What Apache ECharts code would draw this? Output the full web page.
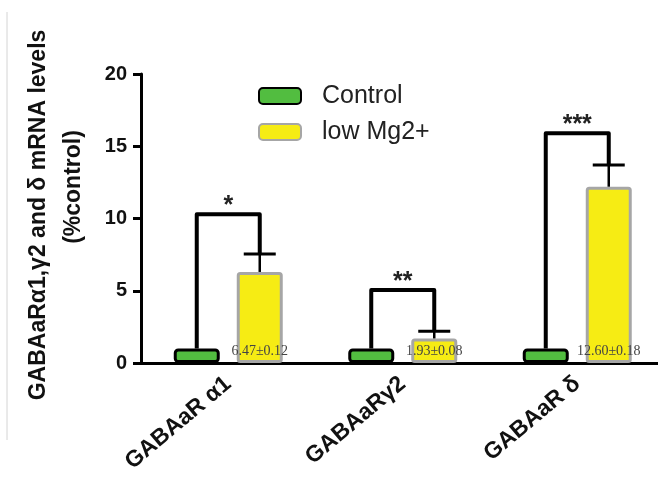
<!DOCTYPE html>
<html>
<head>
<meta charset="utf-8">
<script src="https://cdn.jsdelivr.net/npm/echarts@6/dist/echarts.min.js"></script>
<style>
  html, body { margin: 0; padding: 0; background: #fff; }
  #chart { width: 658px; height: 486px; }
</style>
</head>
<body>
<div id="chart"></div>
<script>
var categories = ['GABAaR α1', 'GABAaRγ2', 'GABAaR δ']
var seriesNames = ['Control', 'low Mg2+']
var controlValues = [1, 1, 1]
var lowMgValues = [6.3, 1.7, 12.2]
var lowMgErrors = [1.25, 0.5, 1.5]
var lowMgLabels = ['6.47±0.12', '1.93±0.08', '12.60±0.18']
var bracketTops = [10.3, 5.05, 15.9]
var stars = ['*', '**', '***']
var yTicks = [0, 5, 10, 15, 20]

var font = 'Liberation Sans, Arial, sans-serif'
var barWidth = 46
var barGapPx = 17

var chart = echarts.init(document.getElementById('chart'))

// brackets, error bars and significance stars
function renderBracket(params, api) {
  var i = api.value(0)
  var cx = api.coord([i, 0])[0]
  var off = (barWidth + barGapPx) / 2
  var xL = cx - off
  var xR = cx + off
  var yCtrl = api.coord([i, api.value(1)])[1]
  var yLow = api.coord([i, api.value(2)])[1]
  var yCap = api.coord([i, api.value(2) + api.value(3)])[1]
  var yTop = api.coord([i, api.value(4)])[1]
  return {
    type: 'group',
    children: [
      {
        type: 'polyline',
        shape: { points: [[xL, yCtrl], [xL, yTop], [xR, yTop], [xR, yCap]] },
        style: { stroke: '#000', lineWidth: 4, fill: null, lineJoin: 'round' }
      },
      {
        type: 'line',
        shape: { x1: xR, y1: yLow, x2: xR, y2: yCap },
        style: { stroke: '#000', lineWidth: 2.5 }
      },
      {
        type: 'line',
        shape: { x1: xR - 16, y1: yCap, x2: xR + 16, y2: yCap },
        style: { stroke: '#000', lineWidth: 3 }
      },
      {
        type: 'text',
        style: {
          text: stars[params.dataIndex],
          x: (xL + xR) / 2,
          y: yTop - 8,
          align: 'center',
          verticalAlign: 'middle',
          fill: '#222',
          font: 'bold 25px ' + font
        }
      }
    ]
  }
}

var option = {
  animation: false,
  grid: {
    left: 141,
    width: 523.5,
    top: 74,
    bottom: 123,
    outerBoundsMode: 'none'
  },
  legend: {
    orient: 'vertical',
    left: 258,
    top: 83,
    padding: 0,
    itemWidth: 42,
    itemHeight: 16,
    itemGap: 10,
    data: seriesNames,
    textStyle: {
      fontFamily: font,
      fontSize: 25,
      lineHeight: 26,
      color: '#222',
      padding: [0, 0, 0, 16]
    }
  },
  graphic: [
    {
      type: 'line',
      shape: { x1: 7, y1: 12, x2: 7, y2: 440 },
      style: { stroke: '#d4d4d4', lineWidth: 1 }
    },
    {
      type: 'text',
      x: 39,
      y: 215,
      rotation: Math.PI / 2,
      style: {
        text: 'GABAaRα1,γ2 and δ mRNA levels',
        align: 'center',
        verticalAlign: 'middle',
        fill: '#111',
        font: 'bold 23px ' + font
      }
    },
    {
      type: 'text',
      x: 74,
      y: 187,
      rotation: Math.PI / 2,
      style: {
        text: '(%control)',
        align: 'center',
        verticalAlign: 'middle',
        fill: '#111',
        font: 'bold 23px ' + font
      }
    }
  ],
  xAxis: {
    type: 'category',
    data: categories,
    axisLine: { lineStyle: { color: '#000', width: 3 } },
    axisTick: { alignWithLabel: true, length: 8, lineStyle: { color: '#000', width: 3 } },
    axisLabel: {
      rotate: 40,
      margin: 18,
      fontFamily: font,
      fontWeight: 'bold',
      fontSize: 23,
      color: '#111'
    }
  },
  yAxis: {
    type: 'value',
    min: yTicks[0],
    max: yTicks[yTicks.length - 1],
    interval: 5,
    splitLine: { show: false },
    axisLine: { show: true, lineStyle: { color: '#000', width: 3 } },
    axisTick: { show: true, length: 8, lineStyle: { color: '#000', width: 3 } },
    axisLabel: {
      margin: 14,
      fontFamily: font,
      fontWeight: 'bold',
      fontSize: 20,
      color: '#111'
    }
  },
  series: [
    {
      name: seriesNames[0],
      type: 'bar',
      barWidth: barWidth,
      barGap: (barGapPx / barWidth * 100) + '%',
      data: controlValues,
      itemStyle: { color: '#52bd40', borderColor: '#000', borderWidth: 3, borderRadius: 3 }
    },
    {
      name: seriesNames[1],
      type: 'bar',
      barWidth: barWidth,
      data: lowMgValues,
      itemStyle: { color: '#f6ec14', borderColor: '#a6a6a6', borderWidth: 3, borderRadius: 2 },
      label: {
        show: true,
        position: 'insideBottom',
        distance: 5,
        formatter: function (p) { return lowMgLabels[p.dataIndex] },
        fontFamily: 'Liberation Serif, Times New Roman, serif',
        fontSize: 14,
        color: '#444'
      }
    },
    {
      type: 'custom',
      renderItem: renderBracket,
      z: 5,
      data: categories.map(function (c, i) {
        return [i, controlValues[i], lowMgValues[i], lowMgErrors[i], bracketTops[i]]
      })
    }
  ]
}

chart.setOption(option)
</script>
</body>
</html>
